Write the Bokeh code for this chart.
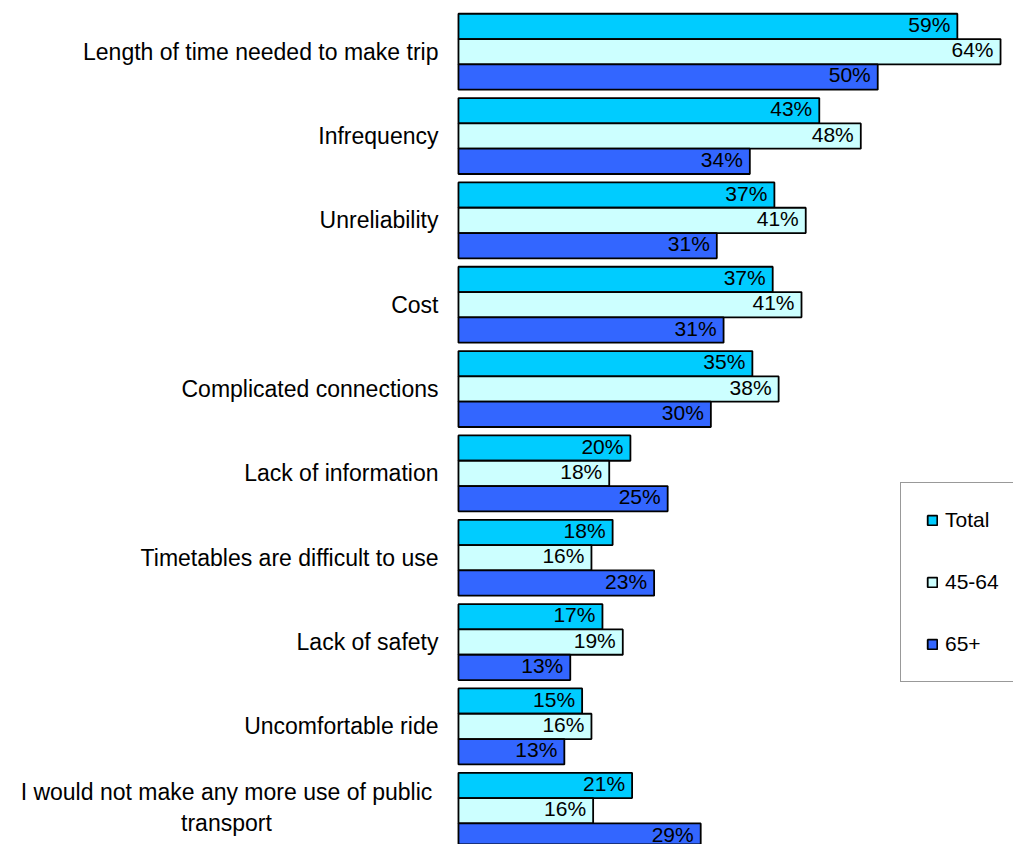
from bokeh.plotting import figure
from bokeh.models import ColumnDataSource, Range1d, Legend, LegendItem
from bokeh.core.properties import value
from bokeh.embed import file_html
from bokeh.resources import INLINE

categories = [
    "Length of time needed to make trip",
    "Infrequency",
    "Unreliability",
    "Cost",
    "Complicated connections",
    "Lack of information",
    "Timetables are difficult to use",
    "Lack of safety",
    "Uncomfortable ride",
    "I would not make any more use of public\ntransport",
]
series_names = ["Total", "45-64", "65+"]
total = [58.9, 42.6, 37.3, 37.1, 34.7, 20.3, 18.2, 17.0, 14.6, 20.5]
age_45_64 = [64.0, 47.5, 41.0, 40.5, 37.8, 17.8, 15.7, 19.4, 15.7, 15.9]
age_65_plus = [49.5, 34.4, 30.5, 31.3, 29.8, 24.7, 23.1, 13.2, 12.5, 28.6]
total_labels = [59, 43, 37, 37, 35, 20, 18, 17, 15, 21]
age_45_64_labels = [64, 48, 41, 41, 38, 18, 16, 19, 16, 16]
age_65_plus_labels = [50, 34, 31, 31, 30, 25, 23, 13, 13, 29]

colors = ["#00CCFF", "#CCFFFF", "#3366FF"]
FONT = "Liberation Sans"

p = figure(
    width=1013, height=844,
    x_range=Range1d(-54.07, 65.53),
    y_range=Range1d(9.40, -0.607),
    x_axis_location=None, y_axis_location=None,
    toolbar_location=None, output_backend="svg",
    min_border=0, min_border_left=0, min_border_right=0,
    min_border_top=0, min_border_bottom=0,
)
p.outline_line_color = None
p.xgrid.visible = False
p.ygrid.visible = False
p.background_fill_color = "white"

bar_h = 0.30
offsets = [-bar_h, 0.0, bar_h]
vals = [total, age_45_64, age_65_plus]
labs = [total_labels, age_45_64_labels, age_65_plus_labels]

renderers = []
for k in range(3):
    ys = [i + offsets[k] for i in range(len(categories))]
    src = ColumnDataSource(dict(
        y=ys, v=vals[k], lab=[f"{l}%" for l in labs[k]]
    ))
    r = p.hbar(y="y", left=0, right="v", height=bar_h, source=src,
               fill_color=colors[k], line_color="black", line_width=1.8)
    renderers.append(r)
    p.text(x="v", y="y", text="lab", source=src, x_offset=-7, y_offset=-2,
           text_align="right", text_baseline="middle",
           text_font=value(FONT), text_font_size="21px", text_color="black")

# category labels
n = len(categories)
single = ColumnDataSource(dict(x=[0] * (n - 1), y=list(range(n - 1)),
                               t=categories[:-1]))
p.text(x="x", y="y", text="t", source=single, x_offset=-20,
       text_align="right", text_baseline="middle",
       text_font=value(FONT), text_font_size="23px", text_color="black")
multi = ColumnDataSource(dict(x=[0], y=[n - 1], t=categories[-1:]))
p.text(x="x", y="y", text="t", source=multi, x_offset=-232, y_offset=-3,
       text_align="center", text_baseline="middle", text_line_height=1.2,
       text_font=value(FONT), text_font_size="23px", text_color="black")

legend = Legend(
    items=[LegendItem(label=series_names[k], renderers=[renderers[k]])
           for k in range(3)],
    location=(900, 162),
    orientation="vertical",
    glyph_width=12, glyph_height=12,
    label_text_font=FONT, label_text_font_size="21px",
    label_text_color="black",
    label_standoff=7, label_height=23,
    spacing=38, padding=25,
    border_line_color="#333333", border_line_width=1,
    background_fill_color="white", background_fill_alpha=1,
    margin=0,
)
p.add_layout(legend)

open("out.html", "w").write(file_html(p, INLINE))
